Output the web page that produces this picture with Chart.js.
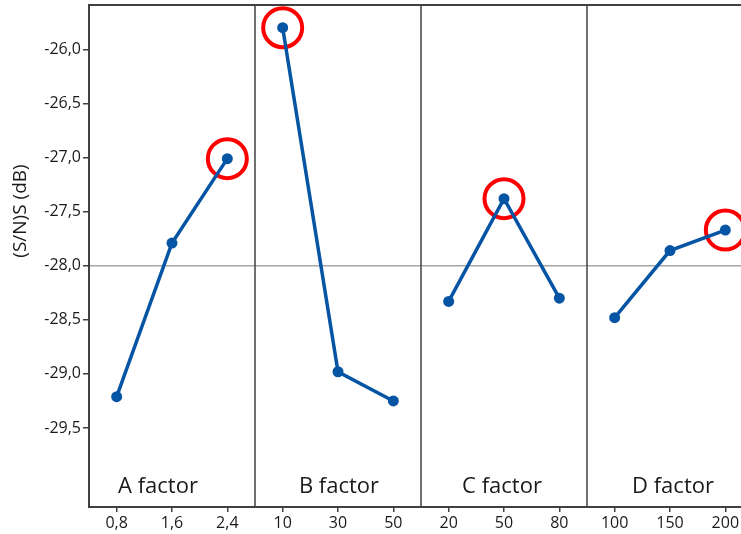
<!DOCTYPE html>
<html><head><meta charset="utf-8">
<script src="https://cdn.jsdelivr.net/npm/chart.js@4.4.1/dist/chart.umd.min.js"></script>
<style>html,body{margin:0;padding:0;overflow:hidden;background:#fff}canvas{display:block}</style>
</head><body>
<canvas id="c" width="760" height="534"></canvas>
<script>
const factorNames = ['A factor', 'B factor', 'C factor', 'D factor'];
const levelsA = ['0,8', '1,6', '2,4'];
const levelsB = ['10', '30', '50'];
const levelsC = ['20', '50', '80'];
const levelsD = ['100', '150', '200'];
const snA = [-29.21, -27.79, -27.01];
const snB = [-25.80, -28.98, -29.25];
const snC = [-28.33, -27.38, -28.30];
const snD = [-28.48, -27.86, -27.67];
const overallMean = -28.0;
const yTicks = [-29.5, -29.0, -28.5, -28.0, -27.5, -27.0, -26.5, -26.0];
const yMin = -30.23, yMax = -25.59;

const allLevels = [levelsA, levelsB, levelsC, levelsD];
const allSN = [snA, snB, snC, snD];
const labels = [].concat(...allLevels);
const nCat = labels.length;

const lineColor = '#0654A4';
const datasets = allSN.map((vals, f) => {
  const data = new Array(nCat).fill(null);
  vals.forEach((v, i) => { data[f * 3 + i] = v; });
  return {
    label: factorNames[f], data,
    borderColor: lineColor, backgroundColor: lineColor,
    borderWidth: 3.5, pointRadius: 5.5, pointHoverRadius: 5.5,
    pointBorderWidth: 0, spanGaps: false, tension: 0, clip: false
  };
});
// red circles around the best (highest S/N) level of each factor
const best = new Array(nCat).fill(null);
allSN.forEach((vals, f) => {
  const m = Math.max(...vals);
  best[f * 3 + vals.indexOf(m)] = m;
});
datasets.push({
  label: 'best', data: best, showLine: false, clip: false,
  borderColor: '#FF0000', backgroundColor: 'rgba(0,0,0,0)',
  borderWidth: 4, pointRadius: 19.5, pointHoverRadius: 19.5
});

const FONT = '"Open Sans", "Noto Sans", sans-serif';

const decor = {
  id: 'decor',
  beforeDatasetsDraw(chart) {
    const { ctx, chartArea: a, scales: { x, y } } = chart;
    ctx.save();
    const ym = y.getPixelForValue(overallMean);
    ctx.strokeStyle = '#A6A6A6'; ctx.lineWidth = 1.5;
    ctx.beginPath(); ctx.moveTo(a.left, ym); ctx.lineTo(a.right, ym); ctx.stroke();
    ctx.strokeStyle = '#404040'; ctx.lineWidth = 1.5;
    for (let f = 1; f < allLevels.length; f++) {
      const px = (x.getPixelForValue(f * 3 - 1) + x.getPixelForValue(f * 3)) / 2;
      ctx.beginPath(); ctx.moveTo(px, a.top); ctx.lineTo(px, a.bottom); ctx.stroke();
    }
    ctx.lineWidth = 2;
    ctx.strokeRect(a.left, a.top, a.right - a.left, a.bottom - a.top);
    ctx.fillStyle = '#1a1a1a';
    ctx.font = '22px ' + FONT;
    ctx.textAlign = 'center'; ctx.textBaseline = 'alphabetic';
    const shift = [-14, 1, -2, 3];
    factorNames.forEach((n, f) => {
      const cx = x.getPixelForValue(f * 3 + 1) + shift[f];
      ctx.fillText(n, cx, 493);
    });
    ctx.restore();
  },
  afterDraw(chart) {
    const { ctx } = chart;
    ctx.save();
    ctx.translate(21, 211);
    ctx.rotate(-Math.PI / 2);
    ctx.fillStyle = '#1a1a1a';
    ctx.font = '19px ' + FONT;
    ctx.textAlign = 'center'; ctx.textBaseline = 'middle';
    ctx.fillText('(S/N)S (dB)', 0, 0);
    ctx.restore();
  }
};

new Chart(document.getElementById('c'), {
  type: 'line',
  data: { labels, datasets },
  options: {
    responsive: false, animation: false,
    devicePixelRatio: 1,
    layout: { autoPadding: false, padding: { top: 5, right: 7, left: 0, bottom: 0 } },
    plugins: { legend: { display: false }, tooltip: { enabled: false }, title: { display: false } },
    scales: {
      x: {
        type: 'category', offset: true,
        border: { display: false },
        grid: { display: true, drawOnChartArea: false, drawTicks: true, tickLength: 5, color: '#404040', lineWidth: 1.5, offset: false },
        ticks: { color: '#1a1a1a', font: { family: FONT, size: 16 }, padding: 2, maxRotation: 0, autoSkip: false },
        afterFit(s) { s.height = 27; s.paddingLeft = 0; s.paddingRight = 0; }
      },
      y: {
        min: yMin, max: yMax,
        border: { display: false },
        grid: { display: true, drawOnChartArea: false, drawTicks: true, tickLength: 6, color: '#404040', lineWidth: 1.5 },
        ticks: {
          color: '#1a1a1a', font: { family: FONT, size: 16 }, padding: 2,
          callback: v => v.toFixed(1).replace('.', ',')
        },
        afterBuildTicks(s) { s.ticks = yTicks.map(v => ({ value: v })); },
        afterFit(s) { s.width = 89; s.paddingTop = 0; s.paddingBottom = 0; }
      }
    }
  },
  plugins: [decor]
});
</script>
</body></html>
